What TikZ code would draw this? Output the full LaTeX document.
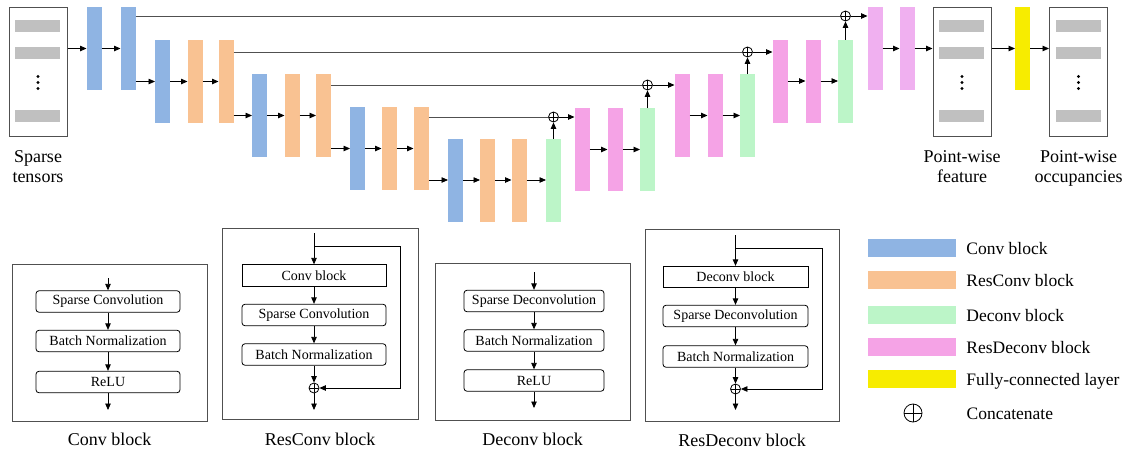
\documentclass[tikz,border=0pt]{standalone}
\usepackage{fontspec}
\setmainfont{Liberation Serif}
\usetikzlibrary{arrows.meta,calc,positioning}
\definecolor{convblue}{RGB}{143,180,227}
\definecolor{resorange}{RGB}{249,194,146}
\definecolor{deconvgreen}{RGB}{188,245,200}
\definecolor{respink}{RGB}{245,163,230}
\definecolor{respinklight}{RGB}{240,176,240}
\definecolor{fcyellow}{RGB}{247,236,0}
\definecolor{slotgrey}{RGB}{192,192,192}
\definecolor{edgegrey}{RGB}{80,80,80}
\tikzset{
  bar/.style={minimum width=15pt,minimum height=83pt,inner sep=0pt,outer sep=0pt},
  convbar/.style={bar,fill=convblue},
  resconvbar/.style={bar,fill=resorange},
  deconvbar/.style={bar,fill=deconvgreen},
  resdeconvbar/.style={bar,fill=respink},
  fcbar/.style={bar,fill=fcyellow},
  tensorbox/.style={draw=edgegrey,line width=1pt,minimum width=58pt,
    minimum height=129pt,inner sep=0pt},
  flow/.style={-{Triangle[length=6.5pt,width=5.5pt]},line width=0.8pt},
  skip/.style={draw=edgegrey,line width=1pt},
  concat/.style={circle,draw,line width=0.8pt,inner sep=0pt,minimum size=10pt,
    path picture={\draw[line width=0.8pt]
      (path picture bounding box.north) -- (path picture bounding box.south)
      (path picture bounding box.west) -- (path picture bounding box.east);}},
  panel/.style={draw=edgegrey,line width=1pt,inner sep=0pt},
  layerbox/.style={draw,rounded corners=3pt,line width=0.8pt,minimum width=144pt,
    minimum height=21.5pt,inner sep=0pt,font=\fontsize{14}{16}\selectfont},
  blockbox/.style={layerbox,sharp corners},
  caption/.style={font=\fontsize{18}{20}\selectfont,align=center,inner sep=0pt},
  legendtext/.style={font=\fontsize{17.5}{20}\selectfont,inner sep=0pt,
    text height=13pt,text depth=0pt},
  swatch/.style={minimum width=88pt,minimum height=18pt,inner sep=0pt}
}
\newcommand{\tensorslots}[1]{%
  \fill[slotgrey] ($(#1.north west)+(6.5,13)$) rectangle ++(45,12);
  \fill[slotgrey] ($(#1.north west)+(6.5,40)$) rectangle ++(45,12);
  \fill[slotgrey] ($(#1.north west)+(6.5,103)$) rectangle ++(45,12);
  \fill ($(#1.north)+(0,70)$) circle (1.6pt);
  \fill ($(#1.north)+(0,76)$) circle (1.6pt);
  \fill ($(#1.north)+(0,82)$) circle (1.6pt);
}

\begin{document}
\begin{tikzpicture}[x=1pt,y=-1pt]
  \useasboundingbox (0,0) rectangle (1131,453);
  % encoder
  \node[tensorbox] (in) at (38,71.5) {};
  \tensorslots{in}
  \node[caption,below=14pt of in] {Sparse\\tensors};
  \node[convbar] (c0a) at (94,48.5) {};
  \node[convbar] (c0b) at (128,48.5) {};
  \node[convbar] (c1a) at (162.5,81.5) {};
  \node[resconvbar] (c1b) at (195,81.5) {};
  \node[resconvbar] (c1c) at (226,81.5) {};
  \node[convbar] (c2a) at (259.5,115.5) {};
  \node[resconvbar] (c2b) at (292,115.5) {};
  \node[resconvbar] (c2c) at (323.5,115.5) {};
  \node[convbar] (c3a) at (357.5,148.5) {};
  \node[resconvbar] (c3b) at (389,148.5) {};
  \node[resconvbar] (c3c) at (421,148.5) {};
  \node[convbar] (c4a) at (455.5,180) {};
  \node[resconvbar] (c4b) at (487.5,180) {};
  \node[resconvbar] (c4c) at (519,180) {};
  % decoder
  \node[deconvbar] (d4) at (553.5,180) {};
  \node[resdeconvbar] (d3a) at (582,149.5) {};
  \node[resdeconvbar] (d3b) at (615,149.5) {};
  \node[deconvbar] (d3c) at (647.5,149.5) {};
  \node[resdeconvbar] (d2a) at (682,115.5) {};
  \node[resdeconvbar] (d2b) at (715,115.5) {};
  \node[deconvbar] (d2c) at (747.5,115.5) {};
  \node[resdeconvbar] (d1a) at (780,81) {};
  \node[resdeconvbar] (d1b) at (813,81) {};
  \node[deconvbar] (d1c) at (845.5,81) {};
  \node[bar,fill=respinklight] (d0a) at (875,48.5) {};
  \node[bar,fill=respinklight] (d0b) at (907,48.5) {};
  \node[concat] (s3) at (553.5,117) {};
  \node[concat] (s2) at (647.5,85) {};
  \node[concat] (s1) at (747.5,52) {};
  \node[concat] (s0) at (845.5,16) {};
  % outputs
  \node[tensorbox] (feat) at (962,71.5) {};
  \tensorslots{feat}
  \node[caption,below=14pt of feat] {Point-wise\\feature};
  \node[fcbar] (fc) at (1022.5,48.5) {};
  \node[tensorbox] (out) at (1078.5,71.5) {};
  \tensorslots{out}
  \node[caption,below=14pt of out] {Point-wise\\occupancies};
  % encoder flow
  \draw[flow] (in.east |- c0a) -- (c0a.west);
  \draw[flow] (c0a) -- (c0b);
  \draw[flow] (c0b.east |- c1a) -- (c1a.west);
  \draw[flow] (c1a) -- (c1b);
  \draw[flow] (c1b) -- (c1c);
  \draw[flow] (c1c.east |- c2a) -- (c2a.west);
  \draw[flow] (c2a) -- (c2b);
  \draw[flow] (c2b) -- (c2c);
  \draw[flow] (c2c.east |- c3a) -- (c3a.west);
  \draw[flow] (c3a) -- (c3b);
  \draw[flow] (c3b) -- (c3c);
  \draw[flow] (c3c.east |- c4a) -- (c4a.west);
  \draw[flow] (c4a) -- (c4b);
  \draw[flow] (c4b) -- (c4c);
  \draw[flow] (c4c) -- (d4);
  % skip connections
  \draw[skip] (c0b.east |- s0) -- (s0.west);
  \draw[skip] (c1c.east |- s1) -- (s1.west);
  \draw[skip] (c2c.east |- s2) -- (s2.west);
  \draw[skip] (c3c.east |- s3) -- (s3.west);
  % decoder flow
  \draw[flow] (d4.north) -- (s3.south);
  \draw[flow] (s3.east) -- (s3.east -| d3a.west);
  \draw[flow] (d3a) -- (d3b);
  \draw[flow] (d3b) -- (d3c);
  \draw[flow] (d3c.north) -- (s2.south);
  \draw[flow] (s2.east) -- (s2.east -| d2a.west);
  \draw[flow] (d2a) -- (d2b);
  \draw[flow] (d2b) -- (d2c);
  \draw[flow] (d2c.north) -- (s1.south);
  \draw[flow] (s1.east) -- (s1.east -| d1a.west);
  \draw[flow] (d1a) -- (d1b);
  \draw[flow] (d1b) -- (d1c);
  \draw[flow] (d1c.north) -- (s0.south);
  \draw[flow] (s0.east) -- (s0.east -| d0a.west);
  \draw[flow] (d0a) -- (d0b);
  \draw[flow] (d0b.east) -- (d0b.east -| feat.west);
  \draw[flow] (feat.east |- fc) -- (fc.west);
  \draw[flow] (fc.east) -- (fc.east -| out.west);

  % Conv block
  \node[panel,minimum width=195pt,minimum height=157pt] (cvpanel) at (109.5,342.5) {};
  \node[layerbox] (cvsc) at (108,301.5) {Sparse Convolution};
  \node[layerbox] (cvbn) at (108,341) {Batch Normalization};
  \node[layerbox] (cvrelu) at (108,382) {ReLU};
  \coordinate (cvin) at (108,278);
  \coordinate (cvout) at (108,410);
  \draw[flow] (cvin) -- (cvsc);
  \draw[flow] (cvsc) -- (cvbn);
  \draw[flow] (cvbn) -- (cvrelu);
  \draw[flow] (cvrelu) -- (cvout);
  \node[caption,below=11pt of cvpanel] {Conv block};

  % ResConv block
  \node[panel,minimum width=196pt,minimum height=191pt] (rcpanel) at (320,323.5) {};
  \node[blockbox] (rcconv) at (314,275.5) {Conv block};
  \node[layerbox] (rcsc) at (314,315) {Sparse Convolution};
  \node[layerbox] (rcbn) at (314,354.5) {Batch Normalization};
  \node[concat] (rcadd) at (314,388) {};
  \coordinate (rcin) at (314,233);
  \coordinate (rcsplit) at (314,246);
  \coordinate (rcloop) at (400,388);
  \coordinate (rcout) at (314,410);
  \draw[flow] (rcin) -- (rcconv);
  \draw[flow] (rcconv) -- (rcsc);
  \draw[flow] (rcsc) -- (rcbn);
  \draw[flow] (rcbn) -- (rcadd);
  \draw[flow] (rcadd) -- (rcout);
  \draw[flow] (rcsplit) -| (rcloop) -- (rcadd);
  \node[caption,below=13pt of rcpanel] {ResConv block};

  % Deconv block
  \node[panel,minimum width=195pt,minimum height=157pt] (dcpanel) at (532.5,341.5) {};
  \node[layerbox,minimum width=140pt] (dcsd) at (534,301) {Sparse Deconvolution};
  \node[layerbox,minimum width=140pt] (dcbn) at (534,340.5) {Batch Normalization};
  \node[layerbox,minimum width=140pt] (dcrelu) at (534,380.5) {ReLU};
  \coordinate (dcin) at (534,272);
  \coordinate (dcout) at (534,408);
  \draw[flow] (dcin) -- (dcsd);
  \draw[flow] (dcsd) -- (dcbn);
  \draw[flow] (dcbn) -- (dcrelu);
  \draw[flow] (dcrelu) -- (dcout);
  \node[caption,below=12pt of dcpanel] {Deconv block};

  % ResDeconv block
  \node[panel,minimum width=194pt,minimum height=192pt] (rdpanel) at (742,325) {};
  \node[blockbox,minimum width=145pt] (rddc) at (735.5,277) {Deconv block};
  \node[layerbox,minimum width=145pt] (rdsd) at (735.5,316) {Sparse Deconvolution};
  \node[layerbox,minimum width=145pt] (rdbn) at (735.5,356.5) {Batch Normalization};
  \node[concat] (rdadd) at (735.5,389) {};
  \coordinate (rdin) at (735.5,235);
  \coordinate (rdsplit) at (735.5,248);
  \coordinate (rdloop) at (822,389);
  \coordinate (rdout) at (735.5,410);
  \draw[flow] (rdin) -- (rddc);
  \draw[flow] (rddc) -- (rdsd);
  \draw[flow] (rdsd) -- (rdbn);
  \draw[flow] (rdbn) -- (rdadd);
  \draw[flow] (rdadd) -- (rdout);
  \draw[flow] (rdsplit) -| (rdloop) -- (rdadd);
  \node[caption,below=12pt of rdpanel] {ResDeconv block};

  % legend
  \node[swatch,fill=convblue] (swconv) at (912,248) {};
  \node[swatch,fill=resorange] (swresconv) at (912,280) {};
  \node[swatch,fill=deconvgreen] (swdeconv) at (912,315) {};
  \node[swatch,fill=respink] (swresdeconv) at (912,347) {};
  \node[swatch,fill=fcyellow] (swfc) at (912,379) {};
  \node[concat,minimum size=18pt] (swadd) at (913,413) {};
  \node[legendtext,right=10pt of swconv] {Conv block};
  \node[legendtext,right=10pt of swresconv] {ResConv block};
  \node[legendtext,right=10pt of swdeconv] {Deconv block};
  \node[legendtext,right=10pt of swresdeconv] {ResDeconv block};
  \node[legendtext,right=10pt of swfc] {Fully-connected layer};
  \node[legendtext,right=44pt of swadd] {Concatenate};
\end{tikzpicture}
\end{document}
